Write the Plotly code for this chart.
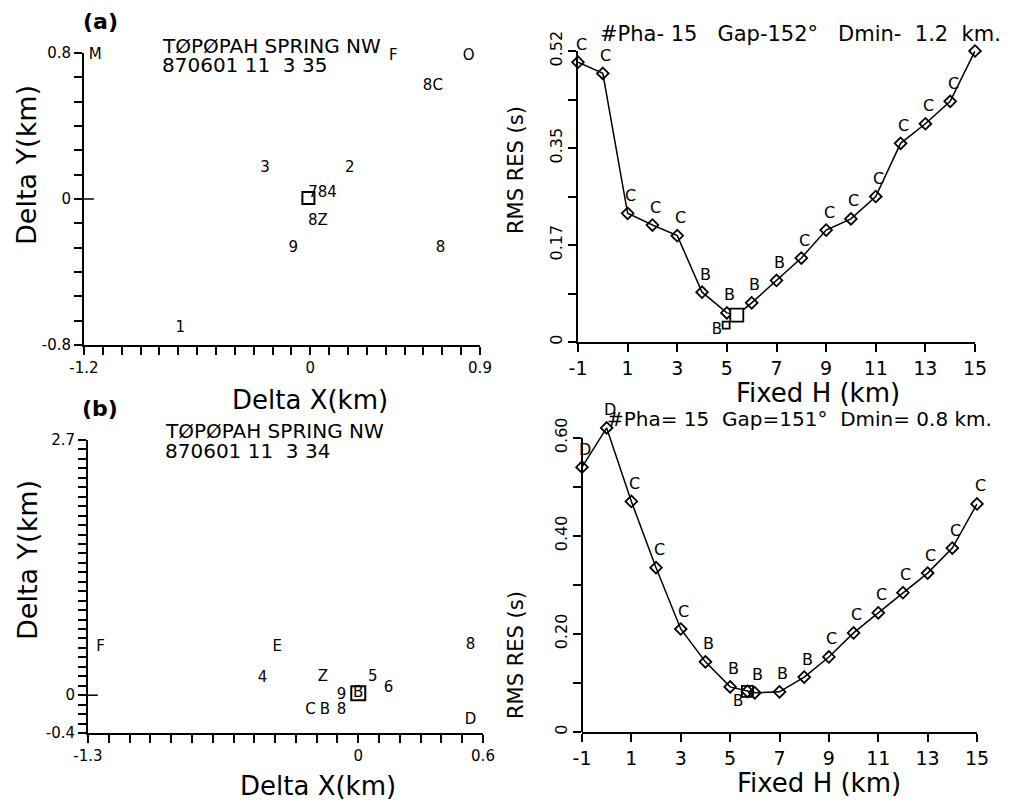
import plotly.graph_objects as go

# ---------------- data ----------------
# Panel (a) map: station / epicentre characters
a_text = ["M", "F", "O", "8C", "3", "2", "784", "8Z", "9", "8", "1"]
a_x = [-1.14, 0.44, 0.84, 0.65, -0.24, 0.21, 0.065, 0.04, -0.09, 0.69, -0.69]
a_y = [0.79, 0.78, 0.78, 0.62, 0.17, 0.17, 0.03, -0.12, -0.27, -0.27, -0.71]
a_sq_x = [-0.01]
a_sq_y = [0.005]

# Panel (a) depth scan
ha = [-1, 0, 1, 2, 3, 4, 5, 5.4, 6, 7, 8, 9, 10, 11, 12, 13, 14, 15]
rms_a = [0.50, 0.48, 0.23, 0.209, 0.19, 0.089, 0.052, 0.048, 0.07, 0.11,
         0.15, 0.20, 0.22, 0.26, 0.355, 0.39, 0.43, 0.52]
grade_a = ["C", "C", "C", "C", "C", "B", "B", "", "B", "B",
           "C", "C", "C", "C", "C", "C", "C", ""]
best_a_x = [5.4]
best_a_y = [0.048]
extra_a_x = [4.6]
extra_a_y = [0.021]
extra_a_t = ["B"]
extra_a_sq_x = [4.97]
extra_a_sq_y = [0.03]

# Panel (b) map
b_text = ["F", "E", "4", "Z", "5", "6", "9", "C", "B", "8", "8", "D", "B"]
b_x = [-1.24, -0.39, -0.46, -0.17, 0.07, 0.145, -0.08, -0.23, -0.16, -0.08, 0.54, 0.54, 0.0]
b_y = [0.51, 0.51, 0.18, 0.19, 0.19, 0.07, 0.0, -0.16, -0.16, -0.16, 0.53, -0.26, 0.02]
b_sq_x = [0.0]
b_sq_y = [0.02]

# Panel (b) depth scan
hb = [-1, 0, 1, 2, 3, 4, 5, 5.7, 6, 7, 8, 9, 10, 11, 12, 13, 14, 15]
rms_b = [0.54, 0.62, 0.47, 0.335, 0.21, 0.143, 0.092, 0.083, 0.08, 0.082,
         0.112, 0.153, 0.202, 0.243, 0.284, 0.324, 0.375, 0.465]
grade_b = ["D", "D", "C", "C", "C", "B", "B", "", "B", "B",
           "B", "C", "C", "C", "C", "C", "C", "C"]
best_b_x = [5.7]
best_b_y = [0.083]
extra_b_x = [5.32]
extra_b_y = [0.061]
extra_b_t = ["B"]

# tick definitions
ax_ticks = [round(-1.2 + 0.1 * i, 2) for i in range(22)]
ax_lab = {-1.2: "-1.2", 0.0: "0", 0.9: "0.9"}
ay_ticks = [-0.8 + 1.6 * i / 12 for i in range(13)]
ay_lab = {0: "-0.8", 6: "0", 12: "0.8"}
bx_ticks = [round(-1.3 + 0.1 * i, 2) for i in range(20)]
bx_lab = {-1.3: "-1.3", 0.0: "0", 0.6: "0.6"}
by_ticks = [round(-0.4 + 0.1 * i, 2) for i in range(32)]
by_lab = {-0.4: "-0.4", 0.0: "0", 2.7: "2.7"}
h_ticks = [-1, 1, 3, 5, 7, 9, 11, 13, 15]
ra_ticks = [0.52 * i / 6 for i in range(7)]
ra_lab = {0: "0", 2: "0.17", 4: "0.35", 6: "0.52"}
rb_ticks = [0, 0.1, 0.2, 0.3, 0.4, 0.5, 0.6]
rb_lab = {0: "0", 0.2: "0.20", 0.4: "0.40", 0.6: "0.60"}

# the page body has an 8px margin, so the figure is sized to fill the rest of the window
OFF = 8
W, H = 1015 - OFF, 803 - OFF
def px(v): return (v - OFF) / W
def py(v): return 1 - (v - OFF) / H

FONT = "DejaVu Sans"
BLACK = "#000000"
fig = go.Figure()

def text_trace(x, y, t, xa, ya, size=15):
    return go.Scatter(x=x, y=y, text=t, mode="text", xaxis=xa, yaxis=ya, cliponaxis=False,
                      textfont=dict(size=size, color=BLACK, family=FONT), hoverinfo="skip")

def marker_trace(x, y, xa, ya, symbol, size, width=2, color=BLACK):
    return go.Scatter(x=x, y=y, mode="markers", xaxis=xa, yaxis=ya, cliponaxis=False,
                      marker=dict(symbol=symbol, size=size, color=color, opacity=1,
                                  line=dict(width=width, color=BLACK)))

# --- map (a)
fig.add_trace(text_trace(a_x, a_y, a_text, "x", "y"))
fig.add_trace(marker_trace(a_sq_x, a_sq_y, "x", "y", "square-open", 12))
# --- depth (a)
fig.add_trace(go.Scatter(x=ha, y=rms_a, mode="lines+markers", xaxis="x2", yaxis="y2",
                         line=dict(color=BLACK, width=1.5), cliponaxis=False,
                         marker=dict(symbol="diamond-open", size=9, color=BLACK, opacity=1,
                                     line=dict(width=1.8, color=BLACK))))
fig.add_trace(marker_trace(best_a_x, best_a_y, "x2", "y2", "square", 13, 1.8, "white"))
fig.add_trace(text_trace(extra_a_x, extra_a_y, extra_a_t, "x2", "y2"))
fig.add_trace(marker_trace(extra_a_sq_x, extra_a_sq_y, "x2", "y2", "square-open", 7, 1.8))
# --- map (b)
fig.add_trace(text_trace(b_x, b_y, b_text, "x3", "y3"))
fig.add_trace(marker_trace(b_sq_x, b_sq_y, "x3", "y3", "square-open", 14))
# --- depth (b)
fig.add_trace(go.Scatter(x=hb, y=rms_b, mode="lines+markers", xaxis="x4", yaxis="y4",
                         line=dict(color=BLACK, width=1.5), cliponaxis=False,
                         marker=dict(symbol="diamond-open", size=9, color=BLACK, opacity=1,
                                     line=dict(width=1.8, color=BLACK))))
fig.add_trace(marker_trace(best_b_x, best_b_y, "x4", "y4", "square-open", 11, 1.8))
fig.add_trace(text_trace(extra_b_x, extra_b_y, extra_b_t, "x4", "y4"))

annotations = []
for xs, ys, gs, xr, yr in [(ha, rms_a, grade_a, "x2", "y2"), (hb, rms_b, grade_b, "x4", "y4")]:
    for xv, yv, g in zip(xs, ys, gs):
        if g:
            annotations.append(dict(x=xv, y=yv, xref=xr, yref=yr, text=g, showarrow=False,
                                    xshift=3, yshift=18, font=dict(size=16, color=BLACK, family=FONT)))

def ann(x, y, text, size, anchor="center", angle=0, fam=FONT):
    annotations.append(dict(x=px(x), y=py(y), xref="paper", yref="paper", text=text, showarrow=False,
                            xanchor=anchor, yanchor="middle", textangle=angle,
                            font=dict(size=size, color=BLACK, family=fam)))

ann(100, 22, "<b>(a)</b>", 22)
ann(100, 408, "<b>(b)</b>", 22)
ann(160, 46, "TØPØPAH SPRING NW", 20, "left")
ann(160, 65, "870601 11  3 35", 20, "left")
ann(163, 431, "TØPØPAH SPRING NW", 20, "left")
ann(163, 451, "870601 11  3 34", 20, "left")
ann(598, 34, "#Pha- 15   Gap-152°   Dmin-  1.2  km.", 21, "left")
ann(605, 419, "#Pha= 15  Gap=151°  Dmin= 0.8 km.", 20, "left")
ann(310, 400, "Delta X(km)", 26)
ann(318, 786, "Delta X(km)", 26)
ann(27, 165, "Delta Y(km)", 27, angle=-90)
ann(27, 560, "Delta Y(km)", 27, angle=-90)
ann(516, 170, "RMS RES (s)", 21, angle=-90)
ann(516, 655, "RMS RES (s)", 21, angle=-90)
ann(818, 393, "Fixed H (km)", 26)
ann(819, 783, "Fixed H (km)", 26)

def axis(domain, rng, tickvals, ticktext, anchor, size, angle=0, showline=True):
    return dict(domain=domain, range=rng, tickvals=tickvals, ticktext=ticktext, anchor=anchor,
                showline=showline, linecolor=BLACK, linewidth=2, ticks="outside", ticklen=8,
                tickwidth=2, tickcolor=BLACK, showgrid=False, zeroline=False, tickangle=angle,
                automargin=False, fixedrange=True,
                tickfont=dict(size=size, color=BLACK, family=FONT))

fig.update_layout(
    template="none",
    width=W, height=H, margin=dict(l=0, r=0, t=0, b=0, pad=0), autosize=False,
    paper_bgcolor="white", plot_bgcolor="white", showlegend=False,
    font=dict(family=FONT, color=BLACK),
    xaxis=axis([px(84), px(480)], [-1.2, 0.9], ax_ticks, [ax_lab.get(v, "") for v in ax_ticks], "y", 15),
    yaxis=axis([py(345), py(53)], [-0.8, 0.8], ay_ticks, [ay_lab.get(i, "") for i in range(13)], "x", 15),
    xaxis2=axis([px(578), px(975)], [-1, 15], h_ticks, [str(v) for v in h_ticks], "y2", 19),
    yaxis2=axis([py(342), py(51)], [0, 0.52], ra_ticks, [ra_lab.get(i, "") for i in range(7)], "x2", 16, -90),
    xaxis3=axis([px(88), px(483)], [-1.3, 0.6], bx_ticks, [bx_lab.get(v, "") for v in bx_ticks], "y3", 15),
    yaxis3=axis([py(733), py(440)], [-0.4, 2.7], by_ticks, [by_lab.get(v, "") for v in by_ticks], "x3", 15),
    xaxis4=axis([px(582), px(977)], [-1, 15], h_ticks, [str(v) for v in h_ticks], "y4", 19),
    yaxis4=axis([py(732), py(423)], [0, 0.63], rb_ticks, [rb_lab.get(v, "") for v in rb_ticks], "x4", 16, -90,
                showline=False),
    annotations=annotations,
    shapes=[
        dict(type="line", xref="x domain", yref="y", x0=0, x1=0.025, y0=0, y1=0,
             line=dict(color=BLACK, width=1.5)),
        dict(type="line", xref="x3 domain", yref="y3", x0=0, x1=0.025, y0=0, y1=0,
             line=dict(color=BLACK, width=1.5)),
        dict(type="line", xref="x4 domain", yref="y4", x0=0, x1=0, y0=0, y1=0.6,
             line=dict(color=BLACK, width=2)),
    ],
)

fig.write_html("out.html")
